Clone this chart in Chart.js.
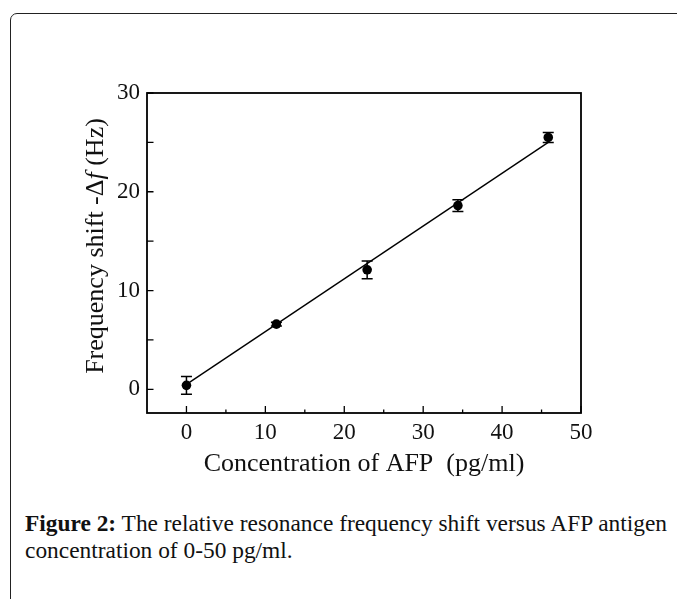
<!DOCTYPE html>
<html>
<head>
<meta charset="utf-8">
<script src="https://cdn.jsdelivr.net/npm/chart.js@4/dist/chart.umd.min.js"></script>
<style>
  html, body { margin: 0; padding: 0; background: #fff; overflow: hidden; }
  body { width: 677px; height: 599px; position: relative; }
  #frame {
    position: absolute; left: 10px; top: 13px; width: 720px; height: 640px;
    border: 1px solid #222; border-radius: 7px; box-sizing: border-box;
  }
  #chart { position: absolute; left: 0; top: 0; }
  #caption {
    position: absolute; left: 25px; top: 510px; width: 650px;
    font-family: "Liberation Serif", "Times New Roman", serif;
    font-size: 23.4px; line-height: 27px; color: #111; white-space: nowrap;
  }
  #caption b { font-weight: bold; }
</style>
</head>
<body>
<div id="frame"></div>
<canvas id="chart" width="677" height="480"></canvas>
<div id="caption"><b>Figure 2:</b> The relative resonance frequency shift versus AFP antigen<br>concentration of 0-50 pg/ml.</div>
<script>
  const SERIF = "'Liberation Serif', 'Times New Roman', serif";

  // measured points (pg/ml -> Hz)
  const concentration = [0, 11.4, 22.9, 34.4, 45.85];
  const freqShift = [0.4, 6.6, 12.1, 18.6, 25.5];
  const freqError = [0.9, 0.2, 0.9, 0.6, 0.5];

  // linear fit end points
  const fitX = [0, 45.85];
  const fitY = [0.5, 25.0];

  const xTicks = [0, 10, 20, 30, 40, 50];
  const yTicks = [0, 10, 20, 30];

  // inward tick marks, frame, error bars and the y title with italic f
  const decor = {
    id: "decor",
    afterDatasetsDraw(chart) {
      const { ctx, chartArea: a, scales: { x, y } } = chart;
      ctx.save();
      ctx.strokeStyle = "#000";

      // error bars
      ctx.lineWidth = 1.5;
      concentration.forEach((cx, i) => {
        const px = x.getPixelForValue(cx);
        const top = y.getPixelForValue(freqShift[i] + freqError[i]);
        const bot = y.getPixelForValue(freqShift[i] - freqError[i]);
        ctx.beginPath();
        ctx.moveTo(px, top); ctx.lineTo(px, bot);
        ctx.moveTo(px - 5.5, top); ctx.lineTo(px + 5.5, top);
        ctx.moveTo(px - 5.5, bot); ctx.lineTo(px + 5.5, bot);
        ctx.stroke();
      });

      // ticks
      ctx.lineWidth = 1.3;
      ctx.beginPath();
      for (let v = 0; v <= 50; v += 5) {
        const px = x.getPixelForValue(v);
        const len = v % 10 === 0 ? 7 : 3.5;
        ctx.moveTo(px, a.bottom); ctx.lineTo(px, a.bottom - len);
      }
      for (let v = 0; v <= 30; v += 5) {
        const py = y.getPixelForValue(v);
        ctx.moveTo(a.left, py); ctx.lineTo(a.left + 6.5, py);
      }
      ctx.stroke();

      // frame
      ctx.lineWidth = 1.8;
      ctx.strokeRect(a.left, a.top, a.right - a.left, a.bottom - a.top);

      // y title
      const parts = [
        ["Frequency shift -\u0394", "26px " + SERIF],
        ["f", "italic 26px " + SERIF],
        [" (Hz)", "26px " + SERIF],
      ];
      let total = 0;
      parts.forEach(([t, f]) => { ctx.font = f; total += ctx.measureText(t).width; });
      ctx.translate(103, (a.top + a.bottom) / 2 - 7);
      ctx.rotate(-Math.PI / 2);
      ctx.fillStyle = "#111";
      ctx.textBaseline = "alphabetic";
      let cur = -total / 2;
      parts.forEach(([t, f]) => {
        ctx.font = f;
        ctx.fillText(t, cur, 0);
        cur += ctx.measureText(t).width;
      });
      ctx.restore();
    },
  };

  new Chart(document.getElementById("chart"), {
    type: "scatter",
    data: {
      datasets: [
        {
          label: "fit",
          type: "line",
          data: fitX.map((v, i) => ({ x: v, y: fitY[i] })),
          borderColor: "#000",
          borderWidth: 1.4,
          pointRadius: 0,
          fill: false,
        },
        {
          label: "AFP",
          data: concentration.map((v, i) => ({ x: v, y: freqShift[i] })),
          backgroundColor: "#000",
          borderColor: "#000",
          borderWidth: 0,
          pointRadius: 4.8,
        },
      ],
    },
    options: {
      responsive: false,
      animation: false,
      layout: { padding: { left: 0, right: 96, top: 93, bottom: 0 } },
      plugins: { legend: { display: false }, tooltip: { enabled: false } },
      scales: {
        x: {
          type: "linear",
          min: -5,
          max: 50,
          grid: { display: false, drawTicks: false },
          border: { display: false },
          afterBuildTicks: (s) => { s.ticks = xTicks.map((v) => ({ value: v })); },
          afterFit: (s) => { s.height = 67; },
          ticks: { color: "#111", padding: 6, font: { family: SERIF, size: 23 } },
          title: {
            display: true,
            text: "Concentration of AFP  (pg/ml)",
            color: "#111",
            font: { family: SERIF, size: 26 },
            padding: { top: 0, bottom: 0 },
          },
        },
        y: {
          type: "linear",
          min: -2.4,
          max: 30,
          grid: { display: false, drawTicks: false },
          border: { display: false },
          afterBuildTicks: (s) => { s.ticks = yTicks.map((v) => ({ value: v })); },
          afterFit: (s) => { s.width = 147; },
          ticks: { color: "#111", padding: 7, font: { family: SERIF, size: 23 } },
        },
      },
    },
    plugins: [decor],
  });
</script>
</body>
</html>
